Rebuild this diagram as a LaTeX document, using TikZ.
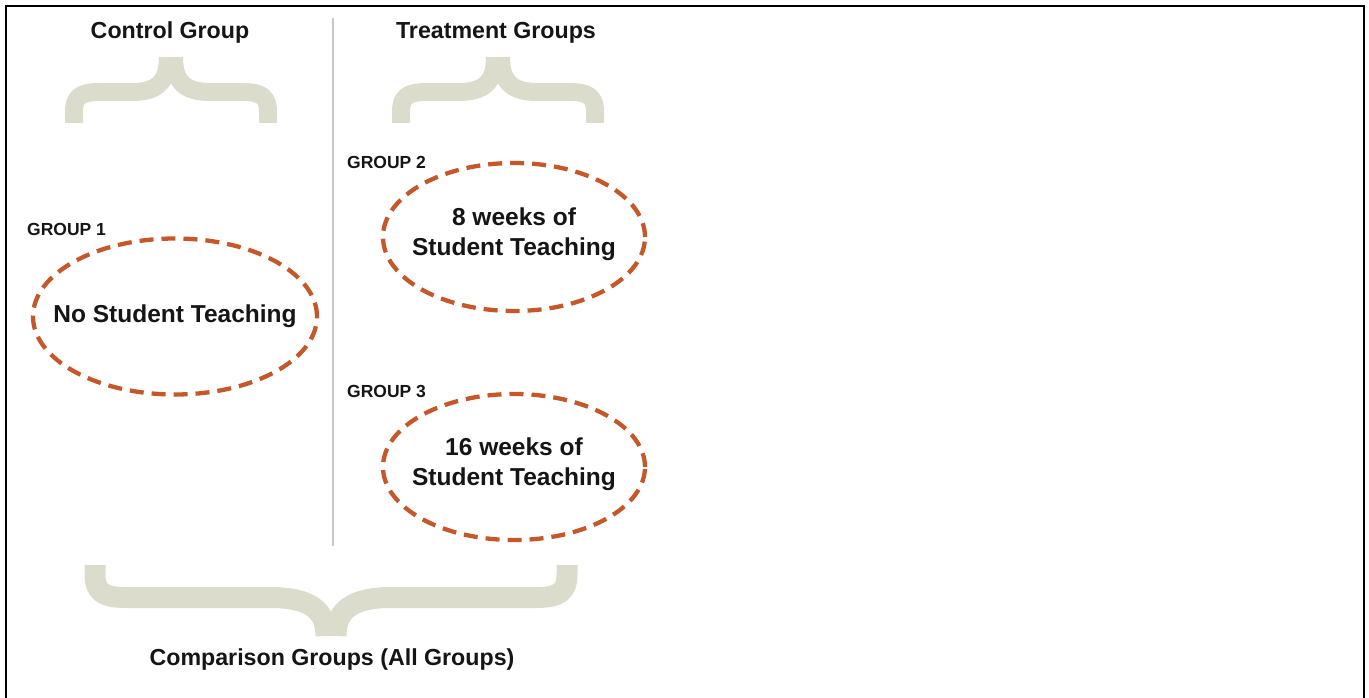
\documentclass[tikz,border=0pt]{standalone}
\usepackage{fontspec}
\setmainfont{Liberation Sans}
\usetikzlibrary{shapes.geometric}
\definecolor{bracecol}{HTML}{DCDCCC}
\definecolor{dashcol}{HTML}{C4582A}
\definecolor{txtcol}{HTML}{151515}
\tikzset{
  bracestroke/.style={draw=bracecol, line width=18pt, line cap=butt, line join=round},
  bigbrace/.style={draw=bracecol, line width=21pt, line cap=butt, line join=round},
  grpell/.style={ellipse, draw=dashcol, line width=4.3pt, dash pattern=on 14pt off 8pt, inner sep=0pt},
  elltext/.style={text=txtcol, font=\fontsize{24.5}{30}\selectfont\bfseries, align=center, inner sep=0pt},
  title/.style={text=txtcol, font=\fontsize{23.2}{27}\selectfont\bfseries, inner sep=0pt},
  glabel/.style={text=txtcol, font=\fontsize{17.5}{20}\selectfont\bfseries, inner sep=0pt, anchor=base west},
}
\begin{document}
\begin{tikzpicture}[x=1pt, y=-1pt]
\useasboundingbox (0,0) rectangle (1369,698);
% frame
\draw[line width=2.5pt] (6,698) -- (6,6) -- (1364,6) -- (1364,698);
% divider
\draw[color=black!22, line width=1.5pt] (333,18) -- (333,546);
% titles
\node[title, anchor=base] (ctl) at (170,39) {Control Group};
\node[title, anchor=base] (trt) at (496,39) {Treatment Groups};
% top-left brace
\draw[bracestroke] (74,123) -- (74,112) .. controls (74,97) and (80,92) .. (100,92) -- (132,92) .. controls (157,92) and (168,82) .. (168,57);
\draw[bracestroke] (268,123) -- (268,112) .. controls (268,97) and (262,92) .. (242,92) -- (210,92) .. controls (185,92) and (174,82) .. (174,57);
% top-right brace
\begin{scope}[xshift=327pt]
\draw[bracestroke] (74,123) -- (74,112) .. controls (74,97) and (80,92) .. (100,92) -- (132,92) .. controls (157,92) and (168,82) .. (168,57);
\draw[bracestroke] (268,123) -- (268,112) .. controls (268,97) and (262,92) .. (242,92) -- (210,92) .. controls (185,92) and (174,82) .. (174,57);
\end{scope}
% bottom brace
\draw[bigbrace] (95,565) -- (95,574) .. controls (95,592) and (103,597.5) .. (126,597.5) -- (270,597.5) .. controls (310,597.5) and (326,610) .. (326,636);
\draw[bigbrace] (567,565) -- (567,574) .. controls (567,592) and (559,597.5) .. (536,597.5) -- (392,597.5) .. controls (352,597.5) and (336,610) .. (336,636);
\node[title, anchor=base] (cmp) at (332,665) {Comparison Groups (All Groups)};
% groups
\node[glabel] (g1) at (27,236) {GROUP 1};
\node[grpell, minimum width=284pt, minimum height=156pt] (e1) at (175,316.5) {};
\node[elltext] (t1) at (e1.center) {No Student Teaching};
\node[glabel] (g2) at (347,168) {GROUP 2};
\node[grpell, minimum width=262pt, minimum height=148pt] (e2) at (514,237) {};
\node[elltext, yshift=2.5pt] (t2) at (e2.center) {8 weeks of\\Student Teaching};
\node[glabel] (g3) at (347,397) {GROUP 3};
\node[grpell, minimum width=262pt, minimum height=146pt] (e3) at (514,467) {};
\node[elltext, yshift=2.5pt] (t3) at (e3.center) {16 weeks of\\Student Teaching};
\end{tikzpicture}
\end{document}
